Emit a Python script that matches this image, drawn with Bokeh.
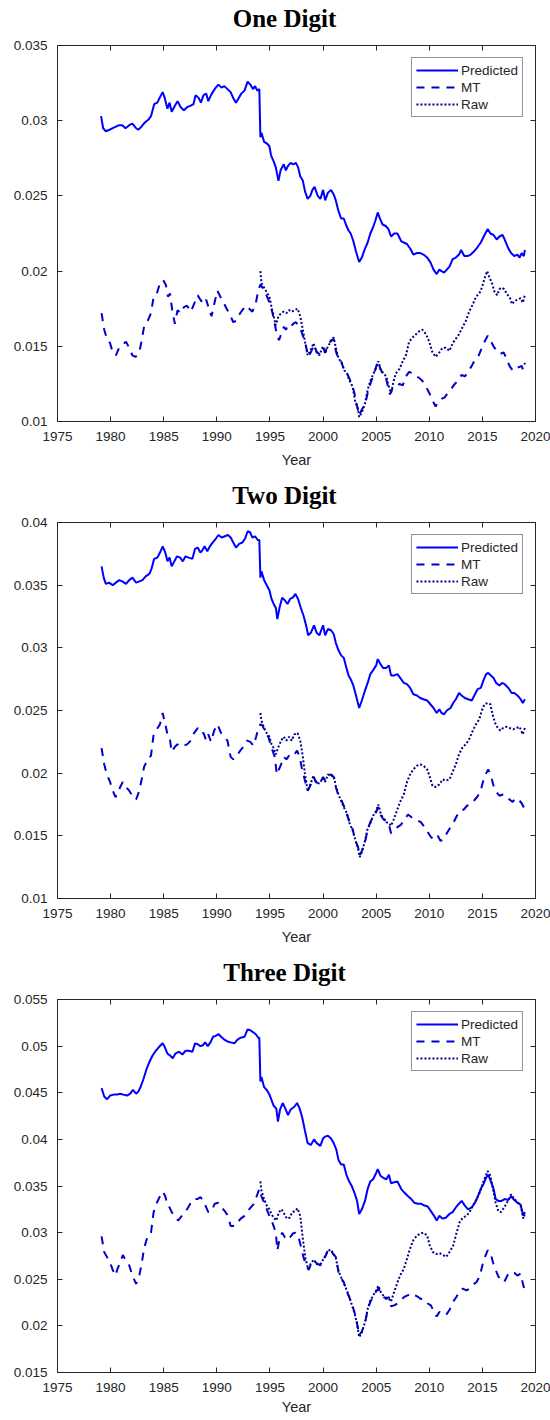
from bokeh.plotting import figure
from bokeh.models import Range1d, FixedTicker, LinearAxis, CustomJSTickFormatter, Legend, LegendItem, Label
from bokeh.layouts import column
from bokeh.embed import file_html
from bokeh.resources import INLINE

# (year, share) pairs
one_pred = [(1979.1, 0.0303), (1979.3, 0.0295), (1979.55, 0.0293), (1979.9, 0.0294), (1980.2, 0.0295), (1980.5, 0.0296),
            (1980.8, 0.0297), (1981.1, 0.0297), (1981.4, 0.0295), (1981.75, 0.0297), (1982.05, 0.0298), (1982.4, 0.0295),
            (1982.6, 0.0294), (1982.9, 0.0296), (1983.25, 0.0299), (1983.6, 0.0301), (1983.8, 0.0303), (1984.1, 0.0311),
            (1984.4, 0.0312), (1984.6, 0.0315), (1984.9, 0.0319), (1985.1, 0.0315), (1985.35, 0.0308), (1985.55, 0.0312),
            (1985.75, 0.0306), (1986.05, 0.0310), (1986.3, 0.0313), (1986.6, 0.0309), (1986.9, 0.0307), (1987.2, 0.0309),
            (1987.55, 0.0310), (1987.8, 0.0311), (1988.0, 0.0317), (1988.3, 0.0315), (1988.5, 0.0312), (1988.75, 0.0317),
            (1989.0, 0.0318), (1989.2, 0.0313), (1989.45, 0.0317), (1989.7, 0.0320), (1989.9, 0.0322), (1990.15, 0.0324),
            (1990.45, 0.0322), (1990.7, 0.0323), (1991.0, 0.0321), (1991.3, 0.0319), (1991.55, 0.0315), (1991.8, 0.0312),
            (1992.05, 0.0315), (1992.3, 0.0318), (1992.6, 0.0320), (1992.9, 0.0326), (1993.15, 0.0324), (1993.4, 0.0321),
            (1993.6, 0.0323), (1993.8, 0.0320), (1994.0, 0.0321), (1994.1, 0.0289), (1994.2, 0.0292), (1994.45, 0.0286),
            (1994.7, 0.0285), (1994.95, 0.0283), (1995.1, 0.0277), (1995.35, 0.0273), (1995.55, 0.0269), (1995.8, 0.0260),
            (1996.0, 0.0267), (1996.3, 0.0271), (1996.5, 0.0267), (1996.7, 0.0270), (1996.95, 0.0272), (1997.2, 0.0271),
            (1997.45, 0.0272), (1997.65, 0.0269), (1997.85, 0.0263), (1998.1, 0.0260), (1998.3, 0.0253), (1998.55, 0.0248),
            (1998.8, 0.0250), (1999.0, 0.0254), (1999.2, 0.0256), (1999.5, 0.0250), (1999.75, 0.0248), (2000.0, 0.0254),
            (2000.2, 0.0247), (2000.45, 0.0252), (2000.75, 0.0254), (2001.0, 0.0251), (2001.2, 0.0247), (2001.45, 0.0240),
            (2001.7, 0.0235), (2001.95, 0.0235), (2002.15, 0.0231), (2002.4, 0.0227), (2002.6, 0.0225), (2002.85, 0.0220),
            (2003.1, 0.0213), (2003.4, 0.0206), (2003.65, 0.0209), (2003.95, 0.0215), (2004.2, 0.0219), (2004.45, 0.0225),
            (2004.7, 0.0229), (2004.9, 0.0233), (2005.15, 0.0239), (2005.35, 0.0235), (2005.6, 0.0231), (2005.9, 0.0230),
            (2006.15, 0.0228), (2006.4, 0.0223), (2006.7, 0.0225), (2007.0, 0.0225), (2007.35, 0.0220), (2007.6, 0.0219),
            (2007.9, 0.0218), (2008.2, 0.0215), (2008.5, 0.0211), (2008.85, 0.0212), (2009.15, 0.0212), (2009.45, 0.0211),
            (2009.8, 0.0209), (2010.1, 0.0206), (2010.4, 0.0201), (2010.7, 0.0198), (2010.95, 0.0201), (2011.15, 0.0200),
            (2011.4, 0.0199), (2011.65, 0.0201), (2011.9, 0.0203), (2012.2, 0.0208), (2012.5, 0.0209), (2012.8, 0.0211),
            (2013.0, 0.0214), (2013.3, 0.0210), (2013.6, 0.0210), (2013.9, 0.0211), (2014.2, 0.0213), (2014.55, 0.0216),
            (2014.85, 0.0219), (2015.2, 0.0224), (2015.5, 0.0228), (2015.75, 0.0225), (2016.05, 0.0224), (2016.35, 0.0221),
            (2016.6, 0.0223), (2016.9, 0.0224), (2017.1, 0.0221), (2017.45, 0.0215), (2017.7, 0.0212), (2018.0, 0.0210),
            (2018.3, 0.0211), (2018.5, 0.0209), (2018.7, 0.0212), (2018.9, 0.0210), (2019.0, 0.0214)]

one_mt = [(1979.15, 0.0172), (1979.4, 0.0161), (1979.65, 0.0155), (1979.95, 0.0152), (1980.2, 0.0146), (1980.5, 0.0144),
          (1980.8, 0.0149), (1981.1, 0.0151), (1981.45, 0.0153), (1981.75, 0.0149), (1982.05, 0.0144), (1982.35, 0.0143),
          (1982.7, 0.0146), (1982.9, 0.0153), (1983.15, 0.0163), (1983.5, 0.0167), (1983.8, 0.0172), (1984.05, 0.0183),
          (1984.35, 0.0185), (1984.65, 0.0192), (1984.95, 0.0194), (1985.2, 0.0191), (1985.4, 0.0183), (1985.6, 0.0185),
          (1985.8, 0.0174), (1986.05, 0.0165), (1986.3, 0.0174), (1986.6, 0.0172), (1986.9, 0.0176), (1987.2, 0.0177),
          (1987.55, 0.0173), (1987.85, 0.0178), (1988.2, 0.0184), (1988.45, 0.0181), (1988.75, 0.0178), (1989.0, 0.0181),
          (1989.3, 0.0174), (1989.5, 0.0170), (1989.75, 0.0178), (1990.05, 0.0187), (1990.4, 0.0182), (1990.7, 0.0178),
          (1991.0, 0.0174), (1991.3, 0.0170), (1991.55, 0.0166), (1991.8, 0.0167), (1992.1, 0.0171), (1992.4, 0.0174),
          (1992.75, 0.0177), (1993.05, 0.0175), (1993.35, 0.0173), (1993.65, 0.0178), (1993.9, 0.0187), (1994.1, 0.0191),
          (1994.3, 0.0189), (1994.6, 0.0185), (1994.85, 0.0181), (1995.05, 0.0177), (1995.25, 0.0172), (1995.45, 0.0165),
          (1995.65, 0.0158), (1995.85, 0.0154), (1996.05, 0.0158), (1996.3, 0.0163), (1996.5, 0.0161), (1996.7, 0.0164),
          (1996.95, 0.0163), (1997.2, 0.0165), (1997.45, 0.0166), (1997.65, 0.0164), (1997.9, 0.0161), (1998.15, 0.0156),
          (1998.4, 0.0150), (1998.6, 0.0143), (1998.85, 0.0146), (1999.15, 0.0151), (1999.4, 0.0146), (1999.65, 0.0145),
          (2000.0, 0.0149), (2000.2, 0.0146), (2000.45, 0.0151), (2000.75, 0.0154), (2001.0, 0.0155), (2001.2, 0.0147),
          (2001.45, 0.0141), (2001.7, 0.0140), (2001.95, 0.0135), (2002.2, 0.0133), (2002.45, 0.0129), (2002.7, 0.0125),
          (2002.95, 0.0119), (2003.15, 0.0112), (2003.4, 0.0104), (2003.65, 0.0108), (2003.95, 0.0111), (2004.2, 0.0119),
          (2004.45, 0.0125), (2004.65, 0.0129), (2004.9, 0.0134), (2005.15, 0.0140), (2005.4, 0.0135), (2005.6, 0.0132),
          (2005.85, 0.0131), (2006.05, 0.0125), (2006.3, 0.0118), (2006.55, 0.0122), (2006.85, 0.0123), (2007.2, 0.0125),
          (2007.5, 0.0124), (2007.8, 0.0130), (2008.1, 0.0133), (2008.45, 0.0132), (2008.75, 0.0130), (2009.05, 0.0129),
          (2009.35, 0.0127), (2009.7, 0.0123), (2010.0, 0.0119), (2010.3, 0.0114), (2010.6, 0.0110), (2010.8, 0.0113),
          (2011.15, 0.0115), (2011.45, 0.0116), (2011.75, 0.0119), (2012.1, 0.0122), (2012.4, 0.0125), (2012.7, 0.0127),
          (2013.05, 0.0131), (2013.35, 0.0130), (2013.65, 0.0133), (2014.0, 0.0137), (2014.3, 0.0141), (2014.6, 0.0143),
          (2014.95, 0.0149), (2015.2, 0.0153), (2015.5, 0.0157), (2015.75, 0.0154), (2016.05, 0.0150), (2016.35, 0.0147),
          (2016.7, 0.0145), (2017.0, 0.0146), (2017.2, 0.0143), (2017.55, 0.0137), (2017.85, 0.0134), (2018.1, 0.0136),
          (2018.4, 0.0136), (2018.7, 0.0137), (2018.85, 0.0134), (2019.0, 0.0139)]

one_raw = [(1994.1, 0.0200), (1994.2, 0.0192), (1994.45, 0.0189), (1994.7, 0.0186), (1994.95, 0.0183), (1995.15, 0.0176),
           (1995.35, 0.0170), (1995.55, 0.0164), (1995.8, 0.0170), (1996.05, 0.0172), (1996.3, 0.0173), (1996.55, 0.0172),
           (1996.8, 0.0174), (1997.05, 0.0173), (1997.3, 0.0174), (1997.6, 0.0175), (1997.85, 0.0170), (1998.1, 0.0161),
           (1998.3, 0.0153), (1998.55, 0.0144), (1998.8, 0.0147), (1999.1, 0.0152), (1999.35, 0.0147), (1999.65, 0.0144),
           (2000.0, 0.0150), (2000.2, 0.0145), (2000.45, 0.0150), (2000.75, 0.0153), (2001.0, 0.0156), (2001.2, 0.0149),
           (2001.45, 0.0142), (2001.75, 0.0139), (2002.0, 0.0134), (2002.25, 0.0132), (2002.5, 0.0127), (2002.8, 0.0123),
           (2003.0, 0.0114), (2003.3, 0.0108), (2003.4, 0.0103), (2003.65, 0.0106), (2003.95, 0.0112), (2004.2, 0.0121),
           (2004.45, 0.0127), (2004.7, 0.0131), (2005.0, 0.0136), (2005.2, 0.0140), (2005.45, 0.0134), (2005.7, 0.0132),
           (2005.95, 0.0130), (2006.2, 0.0123), (2006.4, 0.0119), (2006.65, 0.0127), (2006.85, 0.0132), (2007.2, 0.0135),
           (2007.5, 0.0140), (2007.8, 0.0144), (2008.1, 0.0153), (2008.45, 0.0156), (2008.75, 0.0158), (2009.05, 0.0160),
           (2009.35, 0.0161), (2009.7, 0.0158), (2010.0, 0.0153), (2010.3, 0.0146), (2010.6, 0.0143), (2010.95, 0.0146),
           (2011.25, 0.0149), (2011.55, 0.0149), (2011.9, 0.0147), (2012.2, 0.0152), (2012.5, 0.0155), (2012.8, 0.0158),
           (2013.15, 0.0163), (2013.45, 0.0167), (2013.75, 0.0173), (2014.1, 0.0178), (2014.4, 0.0183), (2014.7, 0.0185),
           (2014.95, 0.0189), (2015.2, 0.0195), (2015.45, 0.0200), (2015.65, 0.0196), (2015.9, 0.0192), (2016.15, 0.0186),
           (2016.4, 0.0184), (2016.6, 0.0188), (2016.8, 0.0189), (2017.05, 0.0188), (2017.3, 0.0185), (2017.6, 0.0182),
           (2017.8, 0.0178), (2018.0, 0.0180), (2018.3, 0.0181), (2018.6, 0.0182), (2018.8, 0.0179), (2019.0, 0.0184)]

two_pred = [(1979.15, 0.0365), (1979.35, 0.0356), (1979.55, 0.0351), (1979.85, 0.0352), (1980.2, 0.0350), (1980.5, 0.0352),
            (1980.8, 0.0354), (1981.1, 0.0353), (1981.45, 0.0351), (1981.75, 0.0354), (1982.05, 0.0356), (1982.4, 0.0352),
            (1982.7, 0.0353), (1983.0, 0.0354), (1983.3, 0.0357), (1983.65, 0.0359), (1983.85, 0.0363), (1984.1, 0.0371),
            (1984.4, 0.0372), (1984.65, 0.0376), (1984.9, 0.0381), (1985.15, 0.0376), (1985.35, 0.0369), (1985.55, 0.0372),
            (1985.75, 0.0365), (1986.0, 0.0369), (1986.25, 0.0373), (1986.55, 0.0372), (1986.8, 0.0369), (1987.05, 0.0373),
            (1987.35, 0.0372), (1987.7, 0.0371), (1987.95, 0.0379), (1988.2, 0.0380), (1988.45, 0.0376), (1988.65, 0.0378),
            (1988.85, 0.0381), (1989.1, 0.0377), (1989.35, 0.0381), (1989.6, 0.0384), (1989.9, 0.0387), (1990.15, 0.0390),
            (1990.45, 0.0388), (1990.75, 0.0389), (1991.05, 0.0390), (1991.3, 0.0388), (1991.55, 0.0384), (1991.8, 0.0380),
            (1992.1, 0.0383), (1992.4, 0.0384), (1992.65, 0.0387), (1992.9, 0.0393), (1993.15, 0.0392), (1993.35, 0.0388),
            (1993.6, 0.0389), (1993.85, 0.0386), (1994.0, 0.0386), (1994.1, 0.0356), (1994.2, 0.0361), (1994.45, 0.0354),
            (1994.7, 0.0350), (1994.95, 0.0346), (1995.15, 0.0339), (1995.35, 0.0335), (1995.55, 0.0332), (1995.7, 0.0323),
            (1995.9, 0.0332), (1996.15, 0.0340), (1996.4, 0.0338), (1996.65, 0.0335), (1996.9, 0.0339), (1997.15, 0.0340),
            (1997.4, 0.0343), (1997.65, 0.0339), (1997.9, 0.0332), (1998.15, 0.0326), (1998.4, 0.0318), (1998.6, 0.0310),
            (1998.85, 0.0312), (1999.15, 0.0318), (1999.4, 0.0312), (1999.65, 0.0310), (2000.0, 0.0318), (2000.2, 0.0310),
            (2000.45, 0.0315), (2000.75, 0.0314), (2001.0, 0.0311), (2001.2, 0.0304), (2001.45, 0.0298), (2001.7, 0.0294),
            (2001.95, 0.0292), (2002.2, 0.0284), (2002.4, 0.0278), (2002.6, 0.0275), (2002.85, 0.0270), (2003.1, 0.0262),
            (2003.4, 0.0252), (2003.65, 0.0258), (2003.95, 0.0266), (2004.2, 0.0272), (2004.45, 0.0279), (2004.7, 0.0282),
            (2005.0, 0.0286), (2005.15, 0.0291), (2005.4, 0.0287), (2005.65, 0.0284), (2005.95, 0.0284), (2006.2, 0.0286),
            (2006.4, 0.0278), (2006.7, 0.0278), (2007.0, 0.0279), (2007.35, 0.0275), (2007.6, 0.0272), (2007.9, 0.0271),
            (2008.2, 0.0268), (2008.5, 0.0263), (2008.85, 0.0262), (2009.15, 0.0260), (2009.45, 0.0259), (2009.8, 0.0258),
            (2010.1, 0.0255), (2010.4, 0.0252), (2010.7, 0.0248), (2010.95, 0.0251), (2011.15, 0.0248), (2011.4, 0.0247),
            (2011.65, 0.0250), (2012.0, 0.0252), (2012.25, 0.0256), (2012.5, 0.0259), (2012.8, 0.0264), (2013.05, 0.0262),
            (2013.35, 0.0260), (2013.65, 0.0259), (2014.0, 0.0258), (2014.3, 0.0263), (2014.55, 0.0267), (2014.85, 0.0268),
            (2015.1, 0.0274), (2015.35, 0.0279), (2015.55, 0.0280), (2015.8, 0.0278), (2016.05, 0.0276), (2016.3, 0.0272),
            (2016.6, 0.0270), (2016.85, 0.0272), (2017.1, 0.0271), (2017.45, 0.0268), (2017.75, 0.0264), (2018.0, 0.0264),
            (2018.3, 0.0262), (2018.6, 0.0259), (2018.8, 0.0256), (2019.0, 0.0259)]

two_mt = [(1979.15, 0.0220), (1979.4, 0.0207), (1979.65, 0.0199), (1979.95, 0.0193), (1980.2, 0.0186), (1980.45, 0.0181),
          (1980.65, 0.0183), (1980.9, 0.0189), (1981.15, 0.0193), (1981.45, 0.0189), (1981.75, 0.0186), (1982.05, 0.0182),
          (1982.4, 0.0179), (1982.7, 0.0186), (1982.9, 0.0194), (1983.15, 0.0205), (1983.5, 0.0211), (1983.8, 0.0214),
          (1984.05, 0.0231), (1984.35, 0.0235), (1984.65, 0.0239), (1984.9, 0.0248), (1985.15, 0.0239), (1985.35, 0.0231),
          (1985.55, 0.0229), (1985.75, 0.0217), (1986.05, 0.0221), (1986.3, 0.0223), (1986.6, 0.0221), (1986.9, 0.0222),
          (1987.2, 0.0223), (1987.55, 0.0226), (1987.85, 0.0232), (1988.2, 0.0236), (1988.45, 0.0232), (1988.75, 0.0232),
          (1989.0, 0.0226), (1989.2, 0.0231), (1989.45, 0.0225), (1989.75, 0.0234), (1990.05, 0.0239), (1990.4, 0.0232),
          (1990.7, 0.0229), (1991.0, 0.0226), (1991.3, 0.0213), (1991.55, 0.0211), (1991.9, 0.0214), (1992.2, 0.0218),
          (1992.5, 0.0221), (1992.85, 0.0226), (1993.15, 0.0225), (1993.45, 0.0222), (1993.7, 0.0229), (1993.9, 0.0236),
          (1994.1, 0.0239), (1994.3, 0.0238), (1994.6, 0.0232), (1994.85, 0.0229), (1995.05, 0.0223), (1995.25, 0.0218),
          (1995.45, 0.0213), (1995.65, 0.0199), (1995.85, 0.0203), (1996.05, 0.0207), (1996.3, 0.0213), (1996.55, 0.0211),
          (1996.8, 0.0214), (1997.05, 0.0213), (1997.3, 0.0215), (1997.55, 0.0218), (1997.8, 0.0213), (1998.05, 0.0202),
          (1998.3, 0.0194), (1998.55, 0.0186), (1998.8, 0.0190), (1999.1, 0.0197), (1999.35, 0.0193), (1999.65, 0.0191),
          (2000.0, 0.0197), (2000.2, 0.0194), (2000.45, 0.0198), (2000.75, 0.0199), (2001.0, 0.0197), (2001.2, 0.0189),
          (2001.45, 0.0182), (2001.75, 0.0178), (2002.0, 0.0173), (2002.25, 0.0167), (2002.5, 0.0161), (2002.8, 0.0155),
          (2003.0, 0.0147), (2003.3, 0.0141), (2003.45, 0.0134), (2003.65, 0.0138), (2003.95, 0.0145), (2004.2, 0.0155),
          (2004.45, 0.0161), (2004.7, 0.0165), (2005.0, 0.0169), (2005.2, 0.0173), (2005.45, 0.0166), (2005.7, 0.0163),
          (2005.95, 0.0162), (2006.2, 0.0159), (2006.4, 0.0152), (2006.7, 0.0154), (2007.0, 0.0157), (2007.35, 0.0159),
          (2007.65, 0.0163), (2008.0, 0.0167), (2008.3, 0.0165), (2008.6, 0.0163), (2008.95, 0.0162), (2009.2, 0.0161),
          (2009.55, 0.0157), (2009.85, 0.0153), (2010.15, 0.0149), (2010.45, 0.0147), (2010.8, 0.0150), (2011.05, 0.0146),
          (2011.35, 0.0147), (2011.65, 0.0152), (2012.0, 0.0157), (2012.3, 0.0161), (2012.6, 0.0166), (2012.9, 0.0170),
          (2013.25, 0.0171), (2013.55, 0.0174), (2013.85, 0.0175), (2014.2, 0.0178), (2014.5, 0.0181), (2014.8, 0.0185),
          (2015.05, 0.0193), (2015.3, 0.0199), (2015.55, 0.0203), (2015.8, 0.0198), (2016.05, 0.0190), (2016.3, 0.0185),
          (2016.6, 0.0182), (2016.95, 0.0183), (2017.25, 0.0182), (2017.55, 0.0179), (2017.85, 0.0177), (2018.1, 0.0180),
          (2018.4, 0.0179), (2018.7, 0.0176), (2019.0, 0.0171)]

two_raw = [(1994.1, 0.0248), (1994.2, 0.0242), (1994.45, 0.0236), (1994.7, 0.0232), (1994.95, 0.0229), (1995.15, 0.0223),
           (1995.35, 0.0220), (1995.55, 0.0215), (1995.8, 0.0221), (1996.05, 0.0226), (1996.3, 0.0229), (1996.55, 0.0226),
           (1996.8, 0.0229), (1997.05, 0.0226), (1997.3, 0.0231), (1997.6, 0.0232), (1997.85, 0.0226), (1998.1, 0.0213),
           (1998.3, 0.0199), (1998.55, 0.0186), (1998.8, 0.0191), (1999.1, 0.0198), (1999.35, 0.0192), (1999.65, 0.0192),
           (2000.0, 0.0196), (2000.2, 0.0193), (2000.45, 0.0199), (2000.75, 0.0198), (2001.0, 0.0198), (2001.2, 0.0190),
           (2001.45, 0.0183), (2001.75, 0.0177), (2002.0, 0.0172), (2002.25, 0.0168), (2002.5, 0.0160), (2002.8, 0.0154),
           (2003.0, 0.0148), (2003.3, 0.0140), (2003.45, 0.0133), (2003.65, 0.0137), (2003.95, 0.0146), (2004.2, 0.0156),
           (2004.45, 0.0160), (2004.7, 0.0166), (2005.0, 0.0170), (2005.2, 0.0175), (2005.45, 0.0167), (2005.7, 0.0164),
           (2005.95, 0.0161), (2006.2, 0.0160), (2006.4, 0.0158), (2006.65, 0.0163), (2006.95, 0.0170), (2007.25, 0.0177),
           (2007.6, 0.0183), (2007.9, 0.0193), (2008.2, 0.0199), (2008.5, 0.0203), (2008.85, 0.0206), (2009.15, 0.0207),
           (2009.45, 0.0206), (2009.8, 0.0203), (2010.05, 0.0197), (2010.3, 0.0190), (2010.6, 0.0189), (2010.95, 0.0191),
           (2011.25, 0.0195), (2011.55, 0.0194), (2011.9, 0.0195), (2012.2, 0.0201), (2012.5, 0.0207), (2012.8, 0.0215),
           (2013.15, 0.0221), (2013.45, 0.0223), (2013.75, 0.0227), (2014.1, 0.0234), (2014.4, 0.0239), (2014.7, 0.0243),
           (2014.95, 0.0250), (2015.2, 0.0255), (2015.5, 0.0256), (2015.75, 0.0255), (2015.95, 0.0247), (2016.2, 0.0240),
           (2016.45, 0.0236), (2016.7, 0.0234), (2016.95, 0.0236), (2017.25, 0.0237), (2017.55, 0.0236), (2017.9, 0.0235),
           (2018.2, 0.0236), (2018.5, 0.0237), (2018.8, 0.0231), (2019.0, 0.0236)]

three_pred = [(1979.15, 0.0455), (1979.4, 0.0446), (1979.65, 0.0443), (1979.95, 0.0447), (1980.3, 0.0448), (1980.6, 0.0448),
              (1980.9, 0.0449), (1981.2, 0.0448), (1981.55, 0.0447), (1981.85, 0.0449), (1982.1, 0.0453), (1982.4, 0.0449),
              (1982.6, 0.0451), (1982.85, 0.0457), (1983.1, 0.0465), (1983.4, 0.0476), (1983.65, 0.0483), (1983.95, 0.0490),
              (1984.25, 0.0495), (1984.55, 0.0499), (1984.9, 0.0503), (1985.1, 0.0499), (1985.35, 0.0492), (1985.6, 0.0490),
              (1985.85, 0.0487), (1986.1, 0.0492), (1986.45, 0.0494), (1986.75, 0.0491), (1987.05, 0.0495), (1987.35, 0.0495),
              (1987.7, 0.0494), (1987.95, 0.0503), (1988.2, 0.0502), (1988.45, 0.0500), (1988.7, 0.0501), (1988.9, 0.0504),
              (1989.15, 0.0500), (1989.4, 0.0504), (1989.65, 0.0510), (1989.9, 0.0511), (1990.15, 0.0513), (1990.4, 0.0510),
              (1990.7, 0.0507), (1991.0, 0.0505), (1991.3, 0.0504), (1991.65, 0.0503), (1991.95, 0.0507), (1992.25, 0.0509),
              (1992.6, 0.0510), (1992.9, 0.0518), (1993.15, 0.0517), (1993.4, 0.0515), (1993.65, 0.0513), (1993.9, 0.0509),
              (1994.0, 0.0509), (1994.1, 0.0462), (1994.2, 0.0467), (1994.45, 0.0456), (1994.7, 0.0453), (1994.95, 0.0448),
              (1995.15, 0.0442), (1995.35, 0.0436), (1995.6, 0.0433), (1995.75, 0.0419), (1995.95, 0.0432), (1996.2, 0.0439),
              (1996.45, 0.0433), (1996.7, 0.0426), (1996.95, 0.0432), (1997.3, 0.0435), (1997.55, 0.0439), (1997.8, 0.0433),
              (1998.05, 0.0423), (1998.3, 0.0409), (1998.55, 0.0396), (1998.85, 0.0394), (1999.15, 0.0400), (1999.4, 0.0396),
              (1999.75, 0.0393), (2000.0, 0.0401), (2000.2, 0.0403), (2000.45, 0.0404), (2000.75, 0.0401), (2001.0, 0.0396),
              (2001.25, 0.0389), (2001.45, 0.0378), (2001.7, 0.0373), (2001.95, 0.0373), (2002.2, 0.0362), (2002.45, 0.0355),
              (2002.7, 0.0350), (2002.95, 0.0343), (2003.2, 0.0334), (2003.4, 0.0320), (2003.65, 0.0325), (2003.95, 0.0334),
              (2004.2, 0.0347), (2004.45, 0.0355), (2004.7, 0.0357), (2005.0, 0.0364), (2005.15, 0.0368), (2005.4, 0.0361),
              (2005.65, 0.0359), (2005.95, 0.0357), (2006.2, 0.0362), (2006.4, 0.0353), (2006.7, 0.0354), (2007.0, 0.0355),
              (2007.35, 0.0347), (2007.65, 0.0343), (2008.0, 0.0339), (2008.3, 0.0336), (2008.6, 0.0332), (2008.9, 0.0331),
              (2009.2, 0.0331), (2009.55, 0.0329), (2009.85, 0.0328), (2010.15, 0.0323), (2010.45, 0.0318), (2010.7, 0.0313),
              (2010.95, 0.0318), (2011.25, 0.0315), (2011.55, 0.0316), (2011.9, 0.0320), (2012.2, 0.0322), (2012.5, 0.0327),
              (2012.8, 0.0331), (2013.05, 0.0334), (2013.35, 0.0329), (2013.65, 0.0325), (2014.0, 0.0327), (2014.3, 0.0332),
              (2014.55, 0.0338), (2014.85, 0.0347), (2015.1, 0.0352), (2015.35, 0.0359), (2015.55, 0.0362), (2015.8, 0.0355),
              (2016.05, 0.0347), (2016.25, 0.0336), (2016.5, 0.0334), (2016.8, 0.0334), (2017.1, 0.0336), (2017.45, 0.0335),
              (2017.7, 0.0339), (2018.0, 0.0335), (2018.3, 0.0332), (2018.6, 0.0330), (2018.85, 0.0318), (2019.0, 0.0322)]

three_mt = [(1979.15, 0.0296), (1979.4, 0.0279), (1979.65, 0.0274), (1979.95, 0.0268), (1980.2, 0.0260), (1980.45, 0.0254),
            (1980.65, 0.0261), (1980.9, 0.0268), (1981.15, 0.0276), (1981.45, 0.0270), (1981.75, 0.0265), (1982.05, 0.0254),
            (1982.4, 0.0245), (1982.7, 0.0254), (1982.9, 0.0265), (1983.15, 0.0283), (1983.5, 0.0297), (1983.8, 0.0300),
            (1984.05, 0.0322), (1984.35, 0.0332), (1984.65, 0.0339), (1984.9, 0.0344), (1985.15, 0.0339), (1985.35, 0.0329),
            (1985.55, 0.0327), (1985.75, 0.0322), (1986.05, 0.0318), (1986.35, 0.0313), (1986.7, 0.0318), (1987.0, 0.0322),
            (1987.3, 0.0327), (1987.55, 0.0332), (1987.85, 0.0336), (1988.2, 0.0336), (1988.45, 0.0338), (1988.75, 0.0334),
            (1989.0, 0.0327), (1989.2, 0.0322), (1989.5, 0.0323), (1989.8, 0.0331), (1990.15, 0.0332), (1990.45, 0.0327),
            (1990.75, 0.0323), (1991.05, 0.0318), (1991.3, 0.0307), (1991.65, 0.0307), (1991.95, 0.0311), (1992.25, 0.0315),
            (1992.6, 0.0318), (1992.9, 0.0323), (1993.2, 0.0327), (1993.5, 0.0331), (1993.75, 0.0339), (1994.0, 0.0347),
            (1994.2, 0.0339), (1994.45, 0.0332), (1994.7, 0.0325), (1994.95, 0.0318), (1995.15, 0.0313), (1995.35, 0.0307),
            (1995.55, 0.0300), (1995.7, 0.0281), (1995.9, 0.0293), (1996.15, 0.0300), (1996.4, 0.0295), (1996.65, 0.0292),
            (1996.9, 0.0295), (1997.15, 0.0299), (1997.4, 0.0300), (1997.65, 0.0297), (1997.9, 0.0286), (1998.15, 0.0274),
            (1998.4, 0.0265), (1998.65, 0.0260), (1998.9, 0.0267), (1999.15, 0.0270), (1999.4, 0.0267), (1999.75, 0.0265),
            (2000.0, 0.0272), (2000.2, 0.0274), (2000.45, 0.0281), (2000.7, 0.0283), (2000.95, 0.0277), (2001.2, 0.0274),
            (2001.45, 0.0258), (2001.7, 0.0251), (2001.95, 0.0247), (2002.2, 0.0238), (2002.45, 0.0231), (2002.7, 0.0224),
            (2002.95, 0.0215), (2003.2, 0.0203), (2003.4, 0.0190), (2003.65, 0.0194), (2003.95, 0.0203), (2004.2, 0.0217),
            (2004.45, 0.0226), (2004.7, 0.0231), (2005.0, 0.0237), (2005.2, 0.0240), (2005.45, 0.0235), (2005.7, 0.0231),
            (2005.95, 0.0229), (2006.2, 0.0231), (2006.4, 0.0221), (2006.7, 0.0222), (2007.0, 0.0224), (2007.35, 0.0228),
            (2007.65, 0.0231), (2008.0, 0.0233), (2008.3, 0.0235), (2008.6, 0.0233), (2008.95, 0.0231), (2009.2, 0.0229),
            (2009.55, 0.0228), (2009.85, 0.0224), (2010.15, 0.0222), (2010.45, 0.0215), (2010.7, 0.0210), (2010.95, 0.0215),
            (2011.3, 0.0212), (2011.6, 0.0212), (2011.9, 0.0217), (2012.25, 0.0226), (2012.55, 0.0231), (2012.85, 0.0237),
            (2013.15, 0.0240), (2013.5, 0.0238), (2013.8, 0.0240), (2014.1, 0.0244), (2014.45, 0.0247), (2014.75, 0.0253),
            (2015.0, 0.0265), (2015.25, 0.0274), (2015.5, 0.0281), (2015.75, 0.0279), (2016.0, 0.0268), (2016.25, 0.0260),
            (2016.5, 0.0253), (2016.75, 0.0249), (2017.05, 0.0247), (2017.4, 0.0255), (2017.7, 0.0258), (2018.0, 0.0257),
            (2018.3, 0.0254), (2018.6, 0.0256), (2018.8, 0.0246), (2019.0, 0.0237)]

three_raw = [(1994.1, 0.0355), (1994.2, 0.0345), (1994.45, 0.0336), (1994.7, 0.0329), (1994.95, 0.0325), (1995.15, 0.0320),
             (1995.35, 0.0316), (1995.6, 0.0313), (1995.85, 0.0322), (1996.1, 0.0325), (1996.35, 0.0320), (1996.6, 0.0315),
             (1996.85, 0.0316), (1997.1, 0.0322), (1997.35, 0.0323), (1997.6, 0.0326), (1997.85, 0.0318), (1998.1, 0.0293),
             (1998.35, 0.0272), (1998.6, 0.0261), (1998.9, 0.0268), (1999.15, 0.0271), (1999.4, 0.0266), (1999.75, 0.0266),
             (2000.0, 0.0271), (2000.2, 0.0275), (2000.45, 0.0280), (2000.7, 0.0282), (2000.95, 0.0278), (2001.2, 0.0273),
             (2001.45, 0.0259), (2001.7, 0.0252), (2001.95, 0.0246), (2002.2, 0.0239), (2002.45, 0.0232), (2002.7, 0.0223),
             (2002.95, 0.0214), (2003.2, 0.0202), (2003.4, 0.0188), (2003.65, 0.0193), (2003.95, 0.0204), (2004.2, 0.0218),
             (2004.45, 0.0227), (2004.7, 0.0232), (2005.0, 0.0238), (2005.2, 0.0243), (2005.45, 0.0236), (2005.7, 0.0232),
             (2005.95, 0.0230), (2006.2, 0.0229), (2006.4, 0.0226), (2006.65, 0.0235), (2006.95, 0.0245), (2007.25, 0.0254),
             (2007.6, 0.0261), (2007.9, 0.0272), (2008.2, 0.0283), (2008.5, 0.0292), (2008.85, 0.0297), (2009.15, 0.0299),
             (2009.45, 0.0300), (2009.8, 0.0297), (2010.05, 0.0286), (2010.35, 0.0279), (2010.65, 0.0277), (2010.95, 0.0278),
             (2011.3, 0.0276), (2011.6, 0.0274), (2011.9, 0.0279), (2012.25, 0.0286), (2012.55, 0.0299), (2012.85, 0.0311),
             (2013.15, 0.0316), (2013.5, 0.0318), (2013.8, 0.0322), (2014.1, 0.0329), (2014.45, 0.0336), (2014.75, 0.0343),
             (2015.0, 0.0352), (2015.25, 0.0359), (2015.5, 0.0366), (2015.75, 0.0361), (2016.0, 0.0347), (2016.25, 0.0332),
             (2016.5, 0.0323), (2016.75, 0.0322), (2017.05, 0.0327), (2017.4, 0.0334), (2017.7, 0.0341), (2018.0, 0.0336),
             (2018.3, 0.0333), (2018.6, 0.0329), (2018.85, 0.0315), (2019.0, 0.0320)]

year_ticks = [1975, 1980, 1985, 1990, 1995, 2000, 2005, 2010, 2015, 2020]
one_ticks = [0.01, 0.015, 0.02, 0.025, 0.03, 0.035]
two_ticks = [0.01, 0.015, 0.02, 0.025, 0.03, 0.035, 0.04]
three_ticks = [0.015, 0.02, 0.025, 0.03, 0.035, 0.04, 0.045, 0.05, 0.055]

INK = "#262626"
SANS = "Liberation Sans"
TITLE_H = 36
fmt = CustomJSTickFormatter(code="return tick.toFixed(3).replace(/0+$/, '');")
blank = CustomJSTickFormatter(code="return '';")


def unzip(pairs):
    return [a for a, b in pairs], [b for a, b in pairs]


def style_axis(ax):
    ax.axis_line_color = INK
    ax.major_tick_line_color = INK
    ax.major_tick_in = 5
    ax.major_tick_out = 0
    ax.minor_tick_line_color = None
    ax.major_label_text_font = SANS
    ax.major_label_text_font_size = "13.5px"
    ax.major_label_text_color = INK


def title_strip(text):
    # a bare strip holding the bold serif heading, so it can sit higher than a Bokeh title would
    t = figure(width=550, height=TITLE_H, output_backend="svg", toolbar_location=None, title=None,
               x_axis_location=None, y_axis_location=None, x_range=Range1d(0, 1), y_range=Range1d(0, 1),
               min_border_left=0, min_border_right=0, min_border_top=0, min_border_bottom=0)
    t.grid.visible = False
    t.outline_line_color = None
    t.add_layout(Label(x=227, y=TITLE_H - 18, x_units="screen", y_units="screen", text=text,
                       text_font="Liberation Serif", text_font_style="bold", text_font_size="25px",
                       text_color="black", text_align="center", text_baseline="middle"))
    return t


def panel(yticks, pred, mt, raw, height, top, bottom, year_gap):
    p = figure(width=550, height=height, output_backend="svg", toolbar_location=None, title=None,
               x_range=Range1d(1975, 2020), y_range=Range1d(yticks[0], yticks[-1]),
               min_border_left=57, min_border_right=15, min_border_top=top, min_border_bottom=bottom)
    p.grid.visible = False
    p.outline_line_color = INK
    p.background_fill_color = "white"

    p.xaxis.ticker = FixedTicker(ticks=year_ticks)
    p.yaxis.ticker = FixedTicker(ticks=yticks)
    p.yaxis.formatter = fmt
    for ax in p.xaxis + p.yaxis:
        style_axis(ax)
        ax.major_label_standoff = 10
    p.xaxis.axis_label = "Year"
    p.xaxis.axis_label_standoff = year_gap
    p.xaxis.axis_label_text_font = SANS
    p.xaxis.axis_label_text_font_size = "14.5px"
    p.xaxis.axis_label_text_font_style = "normal"
    p.xaxis.axis_label_text_color = INK

    # box ticks on top and right, as in the source figure
    right = LinearAxis(ticker=FixedTicker(ticks=yticks), formatter=blank, major_label_standoff=0)
    style_axis(right)
    p.add_layout(right, "right")
    above = LinearAxis(ticker=FixedTicker(ticks=year_ticks), formatter=blank, major_label_standoff=0)
    style_axis(above)
    p.add_layout(above, "above")

    x, y = unzip(pred)
    r1 = p.line(x, y, line_color="#0000ff", line_width=2)
    x, y = unzip(mt)
    r2 = p.line(x, y, line_color="#0000cd", line_width=2, line_dash="8 7")
    x, y = unzip(raw)
    r3 = p.line(x, y, line_color="#00008b", line_width=2, line_dash="2 2")

    leg = Legend(items=[LegendItem(label="Predicted", renderers=[r1]),
                        LegendItem(label="MT", renderers=[r2]),
                        LegendItem(label="Raw", renderers=[r3])],
                 location="top_right")
    leg.label_text_font = SANS
    leg.label_text_font_size = "13.5px"
    leg.label_text_color = INK
    leg.glyph_width = 42
    leg.glyph_height = 16
    leg.label_height = 16
    leg.label_standoff = 3
    leg.padding = 4
    leg.spacing = 1
    leg.margin = 12
    leg.border_line_color = INK
    leg.border_line_width = 1
    leg.background_fill_alpha = 1
    p.add_layout(leg)
    return p


p1 = panel(one_ticks, one_pred, one_mt, one_raw, 477 - TITLE_H, 9, 56, 8)
p2 = panel(two_ticks, two_pred, two_mt, two_raw, 477 - TITLE_H, 9, 56, 8)
p3 = panel(three_ticks, three_pred, three_mt, three_raw, 465 - TITLE_H, 9, 47, 4)

p = column(title_strip("One Digit"), p1, title_strip("Two Digit"), p2, title_strip("Three Digit"), p3, spacing=0)
open("out.html", "w").write(file_html(p, INLINE))
